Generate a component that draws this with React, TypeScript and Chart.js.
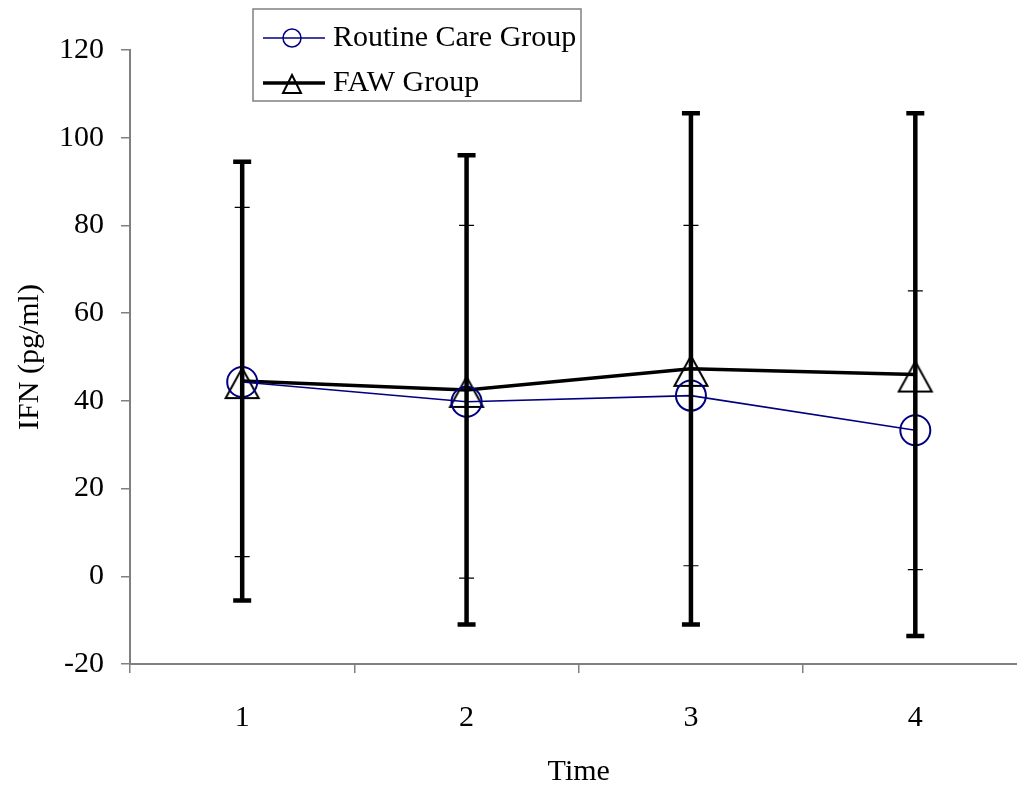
import React, { useEffect, useRef } from "react";
import { Chart, registerables } from "chart.js";

Chart.register(...registerables);

const categories = ["1", "2", "3", "4"];
const routineMean = [44.3, 39.8, 41.2, 33.3];
const routineSD = [39.8, 40.2, 38.8, 31.8];
const fawMean = [44.5, 42.5, 47.3, 46.0];
const fawSD = [50.0, 53.5, 58.3, 59.6];
const yTickMin = -20;
const yTickMax = 120;
const yTickStep = 20;
const seriesNames = ["Routine Care Group", "FAW Group"];

const FONT = "'Liberation Serif', 'Times New Roman', serif";
const AXIS_GRAY = "#808080";
const NAVY = "#000080";

function makeTriangle(): HTMLCanvasElement {
  const c = document.createElement("canvas");
  c.width = 44;
  c.height = 44;
  const g = c.getContext("2d")!;
  g.strokeStyle = "#000";
  g.lineWidth = 2;
  g.lineJoin = "miter";
  g.beginPath();
  g.moveTo(22, 22 - 13);
  g.lineTo(22 + 16.5, 22 + 17);
  g.lineTo(22 - 16.5, 22 + 17);
  g.closePath();
  g.stroke();
  return c;
}

const errorBarPlugin = {
  id: "errorBars",
  afterDatasetsDraw(chart: any) {
    const ctx = chart.ctx;
    const x = chart.scales.x;
    const y = chart.scales.y;
    const drawSet = (means: number[], sds: number[], lw: number, cap: number) => {
      ctx.save();
      ctx.strokeStyle = "#000";
      ctx.lineWidth = lw;
      ctx.lineCap = "butt";
      means.forEach((m, i) => {
        const px = x.getPixelForValue(i);
        const top = y.getPixelForValue(m + sds[i]);
        const bot = y.getPixelForValue(m - sds[i]);
        ctx.beginPath();
        ctx.moveTo(px, top);
        ctx.lineTo(px, bot);
        ctx.moveTo(px - cap / 2, top);
        ctx.lineTo(px + cap / 2, top);
        ctx.moveTo(px - cap / 2, bot);
        ctx.lineTo(px + cap / 2, bot);
        ctx.stroke();
      });
      ctx.restore();
    };
    drawSet(routineMean, routineSD, 1.2, 15);
    drawSet(fawMean, fawSD, 4.5, 18);
  },
};

const legendPlugin = {
  id: "customLegend",
  afterDraw(chart: any) {
    const ctx = chart.ctx;
    ctx.save();
    const bx = 253, by = 9, bw = 328, bh = 92;
    ctx.fillStyle = "#fff";
    ctx.fillRect(bx, by, bw, bh);
    ctx.strokeStyle = AXIS_GRAY;
    ctx.lineWidth = 1.5;
    ctx.strokeRect(bx, by, bw, bh);
    const y1 = 38, y2 = 83;
    ctx.strokeStyle = NAVY;
    ctx.lineWidth = 1.5;
    ctx.beginPath();
    ctx.moveTo(263, y1);
    ctx.lineTo(325, y1);
    ctx.stroke();
    ctx.beginPath();
    ctx.arc(292, y1, 9, 0, Math.PI * 2);
    ctx.stroke();
    ctx.strokeStyle = "#000";
    ctx.lineWidth = 3.5;
    ctx.beginPath();
    ctx.moveTo(263, y2);
    ctx.lineTo(325, y2);
    ctx.stroke();
    ctx.lineWidth = 2;
    ctx.beginPath();
    ctx.moveTo(292, y2 - 8);
    ctx.lineTo(301, y2 + 10);
    ctx.lineTo(283, y2 + 10);
    ctx.closePath();
    ctx.stroke();
    ctx.fillStyle = "#000";
    ctx.font = `30px ${FONT}`;
    ctx.textBaseline = "middle";
    ctx.textAlign = "left";
    ctx.fillText(seriesNames[0], 333, y1);
    ctx.fillText(seriesNames[1], 333, y2);
    ctx.restore();
  },
};

export default function App() {
  const ref = useRef<HTMLCanvasElement | null>(null);
  useEffect(() => {
    if (!ref.current) return;
    const tri = makeTriangle();
    const chart = new Chart(ref.current, {
      type: "line",
      data: {
        labels: categories,
        datasets: [
          {
            label: seriesNames[0],
            data: routineMean,
            borderColor: NAVY,
            borderWidth: 1.6,
            backgroundColor: "rgba(0,0,0,0)",
            pointStyle: "circle",
            pointRadius: 15,
            pointBorderWidth: 2,
            pointBorderColor: NAVY,
            pointBackgroundColor: "rgba(0,0,0,0)",
            tension: 0,
          },
          {
            label: seriesNames[1],
            data: fawMean,
            borderColor: "#000",
            borderWidth: 3.5,
            backgroundColor: "rgba(0,0,0,0)",
            pointStyle: tri,
            pointRadius: 19,
            tension: 0,
          },
        ],
      },
      options: {
        responsive: false,
        animation: false,
        events: [],
        layout: { padding: { top: 50, right: 6, left: 0, bottom: 0 } },
        plugins: { legend: { display: false }, tooltip: { enabled: false } },
        scales: {
          x: {
            type: "category",
            offset: true,
            grid: {
              offset: true,
              drawOnChartArea: false,
              tickLength: 9,
              color: AXIS_GRAY,
              lineWidth: 1.5,
            },
            border: { display: true, color: AXIS_GRAY, width: 2 },
            ticks: { color: "#000", font: { family: FONT, size: 30 }, padding: 27, maxRotation: 0 },
            title: {
              display: true,
              text: "Time",
              color: "#000",
              font: { family: FONT, size: 30, lineHeight: 1 },
              padding: { top: 0, bottom: -2 },
            },
            afterFit(scale: any) {
              scale.height = 121;
            },
          },
          y: {
            min: yTickMin,
            max: yTickMax,
            grid: {
              drawOnChartArea: false,
              tickLength: 9,
              color: AXIS_GRAY,
              lineWidth: 1.5,
            },
            border: { display: true, color: AXIS_GRAY, width: 2 },
            ticks: {
              stepSize: yTickStep,
              color: "#000",
              font: { family: FONT, size: 30 },
              padding: 17,
            },
            title: {
              display: true,
              text: "IFN (pg/ml)",
              color: "#000",
              font: { family: FONT, size: 30, lineHeight: 1 },
              padding: { top: 15, bottom: 0 },
            },
            afterFit(scale: any) {
              scale.width = 130;
            },
          },
        },
      },
      plugins: [errorBarPlugin, legendPlugin],
    });
    return () => chart.destroy();
  }, []);
  return (
    <div style={{ position: "absolute", left: 0, top: 0, width: 1017, height: 785, overflow: "hidden", background: "#fff" }}>
      <canvas ref={ref} width={1050} height={785} style={{ width: 1050, height: 785, display: "block" }} />
    </div>
  );
}
